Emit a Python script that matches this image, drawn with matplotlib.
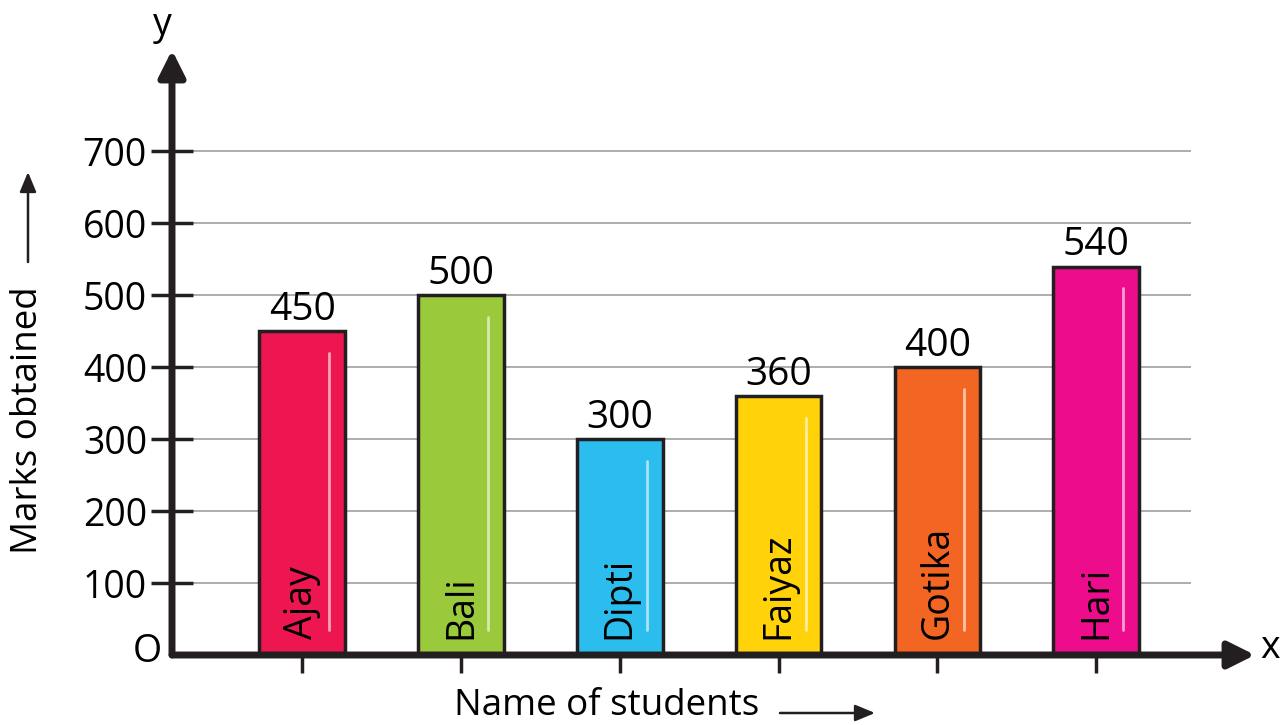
import matplotlib.pyplot as plt
import numpy as np

plt.rcParams['font.family'] = ['Open Sans', 'DejaVu Sans']

students = ['Ajay', 'Bali', 'Dipti', 'Faiyaz', 'Gotika', 'Hari']
marks = [450, 500, 300, 360, 400, 540]
colors = ['#ED1651', '#9ACA3C', '#2BBDEE', '#FFD20A', '#F26522', '#EC0C8C']
y_ticks = [100, 200, 300, 400, 500, 600, 700]

W, H = 1286, 725
fig = plt.figure(figsize=(W / 100, H / 100), dpi=100)
# axes box in pixels: left 172, right 1255, bottom(y) 655, top 50
ax = fig.add_axes([172 / W, (H - 655) / H, (1255 - 172) / W, (655 - 50) / H])
x0, x1 = 0.18, 7.0
ytop = 841
ax.set_xlim(x0, x1)
ax.set_ylim(0, ytop)
for s in ax.spines.values():
    s.set_visible(False)

dark = '#231F20'
x = np.arange(1, len(students) + 1)

# grid
ax.hlines(y_ticks, x0, 6.6, color='#a0a0a0', lw=1.2, zorder=1)

# bars
bw = 0.54
ax.bar(x, marks, width=bw, color=colors, edgecolor=dark, linewidth=2.5, zorder=3)
for xi, m, name in zip(x, marks, students):
    ax.plot([xi + 0.17, xi + 0.17], [35, m - 30], color='white', lw=2, alpha=0.6,
            zorder=4, solid_capstyle='round')
    ax.text(xi, m + 3, str(m), ha='center', va='bottom', fontsize=28, color='black', zorder=5)
    ax.text(xi, 22, name, rotation=90, ha='center', va='bottom', fontsize=27,
            color='black', zorder=5)

# axes with arrows
ax.annotate('', xy=(x1, 0), xytext=(x0, 0),
            arrowprops=dict(arrowstyle='-|>,head_length=1.6,head_width=0.8',
                            color=dark, lw=5, shrinkA=0, shrinkB=0), zorder=6,
            annotation_clip=False)
ax.annotate('', xy=(x0, ytop), xytext=(x0, 0),
            arrowprops=dict(arrowstyle='-|>,head_length=1.6,head_width=0.8',
                            color=dark, lw=5, shrinkA=0, shrinkB=0), zorder=6,
            annotation_clip=False)

# ticks
ax.set_yticks(y_ticks)
ax.set_yticklabels([str(v) for v in y_ticks], fontsize=27)
ax.tick_params(axis='y', direction='inout', length=30, width=2.5, color=dark, pad=3)
ax.set_xticks(x)
ax.set_xticklabels([])
ax.tick_params(axis='x', direction='out', length=13, width=2.5, color=dark)

# labels in figure pixel coordinates
def fx(px):
    return px / W

def fy(py):
    return 1 - py / H

fig.text(fx(147), fy(652), 'O', ha='center', va='center', fontsize=27)
fig.text(fx(162), fy(25), 'y', ha='center', va='center', fontsize=27)
fig.text(fx(1270), fy(648), 'x', ha='center', va='center', fontsize=27)
fig.text(fx(607), fy(706), 'Name of students', ha='center', va='center', fontsize=26.5)
fig.text(fx(28), fy(420), 'Marks obtained', ha='center', va='center', rotation=90, fontsize=26.5)
fig.add_artist(plt.Annotation('', xy=(fx(875), fy(713)), xytext=(fx(780), fy(713)),
                              xycoords='figure fraction',
                              arrowprops=dict(arrowstyle='-|>,head_length=1.2,head_width=0.5',
                                              color=dark, lw=1.8, shrinkA=0, shrinkB=0)))
fig.add_artist(plt.Annotation('', xy=(fx(28), fy(172)), xytext=(fx(28), fy(262)),
                              xycoords='figure fraction',
                              arrowprops=dict(arrowstyle='-|>,head_length=1.2,head_width=0.5',
                                              color=dark, lw=1.8, shrinkA=0, shrinkB=0)))

fig.savefig('out.png', dpi=100)
